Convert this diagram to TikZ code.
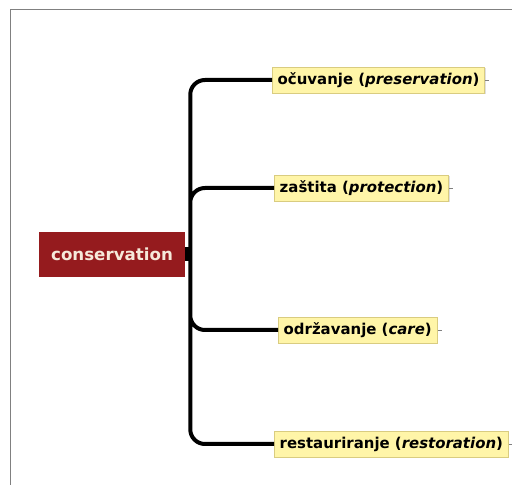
\documentclass[tikz,border=0pt]{standalone}
\usepackage{fontspec}
\setmainfont{DejaVu Sans}
\usetikzlibrary{positioning, shadows}

\definecolor{rootred}{HTML}{951B1E}
\definecolor{rootink}{HTML}{F6E9DA}
\definecolor{notefill}{HTML}{FFF5A8}
\definecolor{noteline}{HTML}{D9CC80}
\definecolor{framegray}{HTML}{808080}

\begin{document}
\begin{tikzpicture}[x=0.75pt, y=-0.75pt, font=\bfseries\fontsize{11.2}{13}\selectfont]
        \tikzset{
          topic/.style={fill=rootred, text=rootink, minimum width=109.5pt,
            minimum height=33.75pt, inner sep=0pt, font=\bfseries\fontsize{12.5}{14}\selectfont},
          subtopic/.style={anchor=west, fill=notefill, draw=noteline, line width=0.6pt,
            inner xsep=4pt, minimum height=19.5pt,
            drop shadow={shadow xshift=0.8pt, shadow yshift=-0.8pt, opacity=0.25}},
          branch/.style={draw=black, line width=3pt, rounded corners=11pt},
          stub/.style={draw=framegray, line width=0.5pt}
        }
        \useasboundingbox (0,0) rectangle (512,485);
        % frame of the screenshot
        \draw[framegray, line width=0.8pt] (10.5,485) -- (10.5,9.5) -- (512,9.5);

        \node[topic] (cons) at (112,254.5) {conservation};
        \coordinate (hub) at ([xshift=3.75pt]cons.east);

        \node[subtopic] (ocuv) at (272,80) {očuvanje (\textit{preservation})};
        \node[subtopic] (zast) at (274,188) {zaštita (\textit{protection})};
        \node[subtopic] (odrz) at (278,330) {održavanje (\textit{care})};
        \node[subtopic] (rest) at (274,444) {restauriranje (\textit{restoration})};

        \draw[line width=10.5pt] (cons.east) -- (hub);
        \path[branch]
        (hub) |- (ocuv.west)
        (hub) |- (zast.west)
        (hub) |- (odrz.west)
        (hub) |- (rest.west);

        \foreach \n in {ocuv,zast,odrz,rest}
          \path[stub] (\n.east) -- ++(4,0);
\end{tikzpicture}
\end{document}
